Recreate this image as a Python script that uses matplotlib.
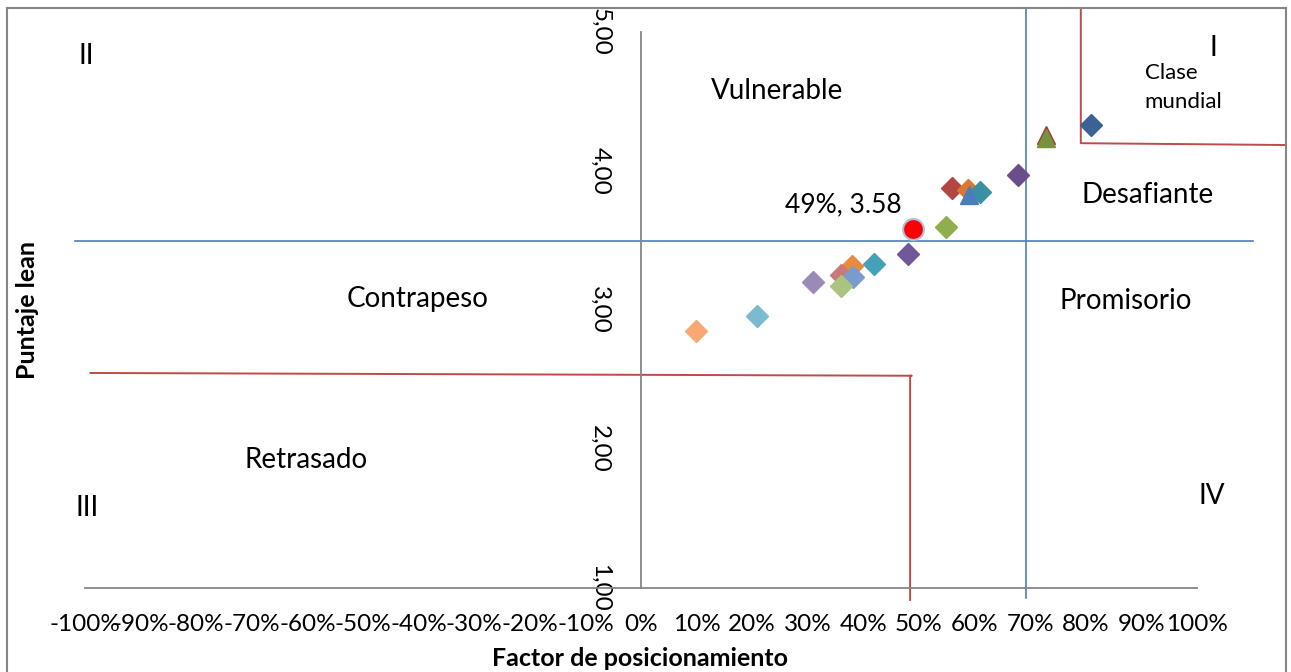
import matplotlib.pyplot as plt
from matplotlib.lines import Line2D
from matplotlib.transforms import Bbox, TransformedBbox

plt.rcParams['font.family'] = ['Lato', 'DejaVu Sans']

# positioning factor (fraction) and lean score of each plant
pos_factor = [0.099, 0.209, 0.309, 0.379, 0.360, 0.381, 0.360, 0.419, 0.480,
              0.549, 0.559, 0.588, 0.610, 0.590, 0.678, 0.728, 0.728, 0.809]
lean_score = [2.85, 2.96, 3.20, 3.32, 3.25, 3.24, 3.17, 3.33, 3.40,
              3.60, 3.88, 3.86, 3.85, 3.83, 3.97, 4.26, 4.24, 4.33]

# highlighted plant
focus_x = 0.49
focus_y = 3.58

x_ticks = [i / 10 for i in range(-10, 11)]
y_ticks = [1, 2, 3, 4, 5]

region_names = ['Vulnerable', 'Desafiante', 'Contrapeso', 'Promisorio', 'Retrasado']
quadrant_names = ['I', 'II', 'III', 'IV']

colors = ['#F9A874', '#7ABBD0', '#9A8AB5', '#E98B3E', '#C97A78', '#7B9BCE',
          '#A9C47F', '#45A0B8', '#71589A', '#8FAF4E', '#B24642', '#D9782F',
          '#3A8FA3', '#4A7EBB', '#6A4E8A', '#9E3B38', '#77933C', '#3B6196']
markers = ['D'] * 13 + ['^', 'D', '^', '^', 'D']

fig = plt.figure(figsize=(12.91, 6.72), dpi=100)
W, H = 1291, 672
ax = fig.add_axes([85 / W, 84 / H, 1112 / W, 556 / H])
ax.set_xlim(-1, 1)
ax.set_ylim(1, 5)

gray = '#868686'
for s in ['top', 'right']:
    ax.spines[s].set_visible(False)
ax.spines['left'].set_position(('data', 0))
for s in ['left', 'bottom']:
    ax.spines[s].set_color(gray)
    ax.spines[s].set_linewidth(1.3)

ax.set_xticks(x_ticks)
ax.set_xticklabels([f'{round(v * 100)}%' for v in x_ticks], fontsize=17.5)
ax.set_yticks(y_ticks)
ax.set_yticklabels([f'{v},00' for v in y_ticks], fontsize=17.5, rotation=-90,
                   va='center')
ax.tick_params(axis='x', length=0, pad=19)
ax.tick_params(axis='y', length=0, pad=22)

frame = TransformedBbox(Bbox([[7 / W, 0], [1286 / W, 1 - 8 / H]]), fig.transFigure)
for lab in ax.get_yticklabels():
    lab.set_clip_on(True)
    lab.set_clip_box(frame)

# quadrant dividers (blue) and region boundaries (red)
blue = '#4A7EBB'
red = '#BE4B48'
ax.plot([-1.018, 1.101], [3.5, 3.5], color=blue, lw=1.2, clip_on=False, zorder=1)
ax.plot([0.693, 0.693], [0.93, 5.17], color=blue, lw=1.2, clip_on=False, zorder=1)
ax.plot([-0.99, 0.487, 0.484, 0.484], [2.547, 2.527, 2.527, 0.914],
        color=red, lw=1.4, clip_on=False, zorder=1)
ax.plot([0.791, 0.791, 1.16], [5.17, 4.20, 4.187],
        color=red, lw=1.4, clip_on=False, zorder=1)

for x, y, c, m in zip(pos_factor, lean_score, colors, markers):
    size = 11 if m == 'D' else 13.5
    ax.plot(x, y, marker=m, color=c, markersize=size, mec=c, ls='none',
            clip_on=False, zorder=3)

ax.plot(focus_x, focus_y, 'o', color='#FF0000', markersize=15,
        mec='#A9C0E0', mew=1.5, zorder=4)
ax.text(0.363, 3.755, f'{round(focus_x * 100)}%, {focus_y:.2f}', fontsize=19,
        ha='center', va='center')

region_xy = [(0.245, 4.575), (0.912, 3.83), (-0.401, 3.08), (0.872, 3.065),
             (-0.603, 1.92)]
for name, (x, y) in zip(region_names, region_xy):
    ax.text(x, y, name, fontsize=20, ha='center', va='center')

quad_xy = [(1.029, 4.885), (-0.998, 4.83), (-0.996, 1.576), (1.027, 1.66)]
for name, (x, y) in zip(quadrant_names, quad_xy):
    ax.text(x, y, name, fontsize=20, ha='center', va='center', clip_on=False)

ax.text(0.906, 4.60, 'Clase\nmundial', fontsize=16, ha='left', va='center',
        linespacing=1.55, clip_on=False)

fig.text(28 / W, 1 - 310 / H, 'Puntaje lean', fontsize=18, fontweight='bold',
         rotation=90, ha='center', va='center')
fig.text(640 / W, 1 - 658 / H, 'Factor de posicionamiento', fontsize=18,
         fontweight='bold', ha='center', va='center')

# chart border
for xs, ys in [([7, 7], [8, 672]), ([7, 1286], [8, 8]), ([1286, 1286], [8, 672])]:
    fig.add_artist(Line2D([v / W for v in xs], [1 - v / H for v in ys],
                          color=gray, lw=1.5, transform=fig.transFigure))

fig.savefig('out.png', dpi=100)
